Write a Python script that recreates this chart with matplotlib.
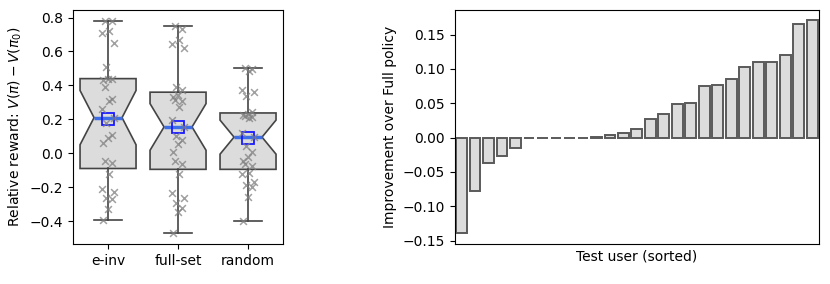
import numpy as np
import matplotlib
matplotlib.use('Agg')
from matplotlib import pyplot as plt

# relative reward per test user, one list per method
groups = ['e-inv', 'full-set', 'random']
einv = [-0.395, -0.33, -0.27, -0.265, -0.23, -0.21, -0.12, -0.06, -0.045,
        0.06, 0.09, 0.11, 0.18, 0.21, 0.26, 0.31, 0.32, 0.39, 0.43, 0.44,
        0.44, 0.51, 0.65, 0.71, 0.72, 0.78, 0.78]
fullset = [-0.47, -0.345, -0.325, -0.295, -0.265, -0.235, -0.125, -0.065,
           -0.045, 0.005, 0.055, 0.08, 0.10, 0.155, 0.195, 0.27, 0.31, 0.315,
           0.33, 0.345, 0.375, 0.39, 0.62, 0.645, 0.67, 0.735, 0.75]
rand = [-0.4, -0.26, -0.2, -0.19, -0.17, -0.125, -0.115, -0.075, -0.065,
        -0.045, -0.02, 0.01, 0.04, 0.095, 0.12, 0.21, 0.215, 0.22, 0.225,
        0.23, 0.245, 0.34, 0.36, 0.375, 0.485, 0.495, 0.5]

# improvement over full policy, sorted
improvement = [-0.139, -0.0774, -0.0368, -0.0271, -0.0155, 0, 0, 0, 0, 0,
               0.001, 0.0034, 0.0068, 0.012, 0.0276, 0.034, 0.049, 0.050,
               0.0745, 0.077, 0.0856, 0.1035, 0.1108, 0.1108, 0.121, 0.166,
               0.1708]

plt.rcParams['font.size'] = 10
fig = plt.figure(figsize=(8.3, 2.84), dpi=100)
ax1 = fig.add_axes([0.088, 0.141, 0.253, 0.824])
ax2 = fig.add_axes([0.548, 0.141, 0.4386, 0.824])

edge = '#444444'
data = [einv, fullset, rand]
ax1.boxplot(data, positions=range(3), widths=0.8, notch=True,
            patch_artist=True, showmeans=True, showfliers=False,
            boxprops=dict(facecolor='#dcdcdc', edgecolor=edge, linewidth=1.2),
            whiskerprops=dict(color=edge, linewidth=1.2),
            capprops=dict(color=edge, linewidth=1.2),
            medianprops=dict(color='#3d6ee8', linewidth=2.5),
            meanprops=dict(marker='s', markerfacecolor='none',
                           markeredgecolor='#1a1aff', markersize=8.5,
                           markeredgewidth=1.3))

offs = [-0.07, 0.0, 0.05, -0.03, 0.08, -0.08, 0.02, 0.06, -0.05]
for i, vals in enumerate(data):
    xs = [i + offs[k % len(offs)] for k in range(len(vals))]
    ax1.scatter(xs, vals, marker='x', color='gray', alpha=0.75, s=24,
                linewidths=1.1, zorder=3)

ax1.set_xlim(-0.5, 2.5)
ax1.set_ylim(-0.535, 0.845)
ax1.set_xticks(range(3))
ax1.set_xticklabels(groups)
ax1.set_yticks(np.arange(-0.4, 0.81, 0.2))
ax1.set_ylabel(r'Relative reward: $V(\pi) - V(\pi_0)$')

ax2.bar(range(len(improvement)), improvement, width=0.8, color='#dcdcdc',
        edgecolor='#5a5a5a', linewidth=1.4)
ax2.set_xlim(-0.5, len(improvement) - 0.5)
ax2.set_ylim(-0.155, 0.186)
ax2.set_xticks([])
ax2.set_yticks(np.arange(-0.15, 0.151, 0.05))
ax2.set_xlabel('Test user (sorted)')
ax2.set_ylabel('Improvement over Full policy')

fig.savefig('out.png', dpi=100)
